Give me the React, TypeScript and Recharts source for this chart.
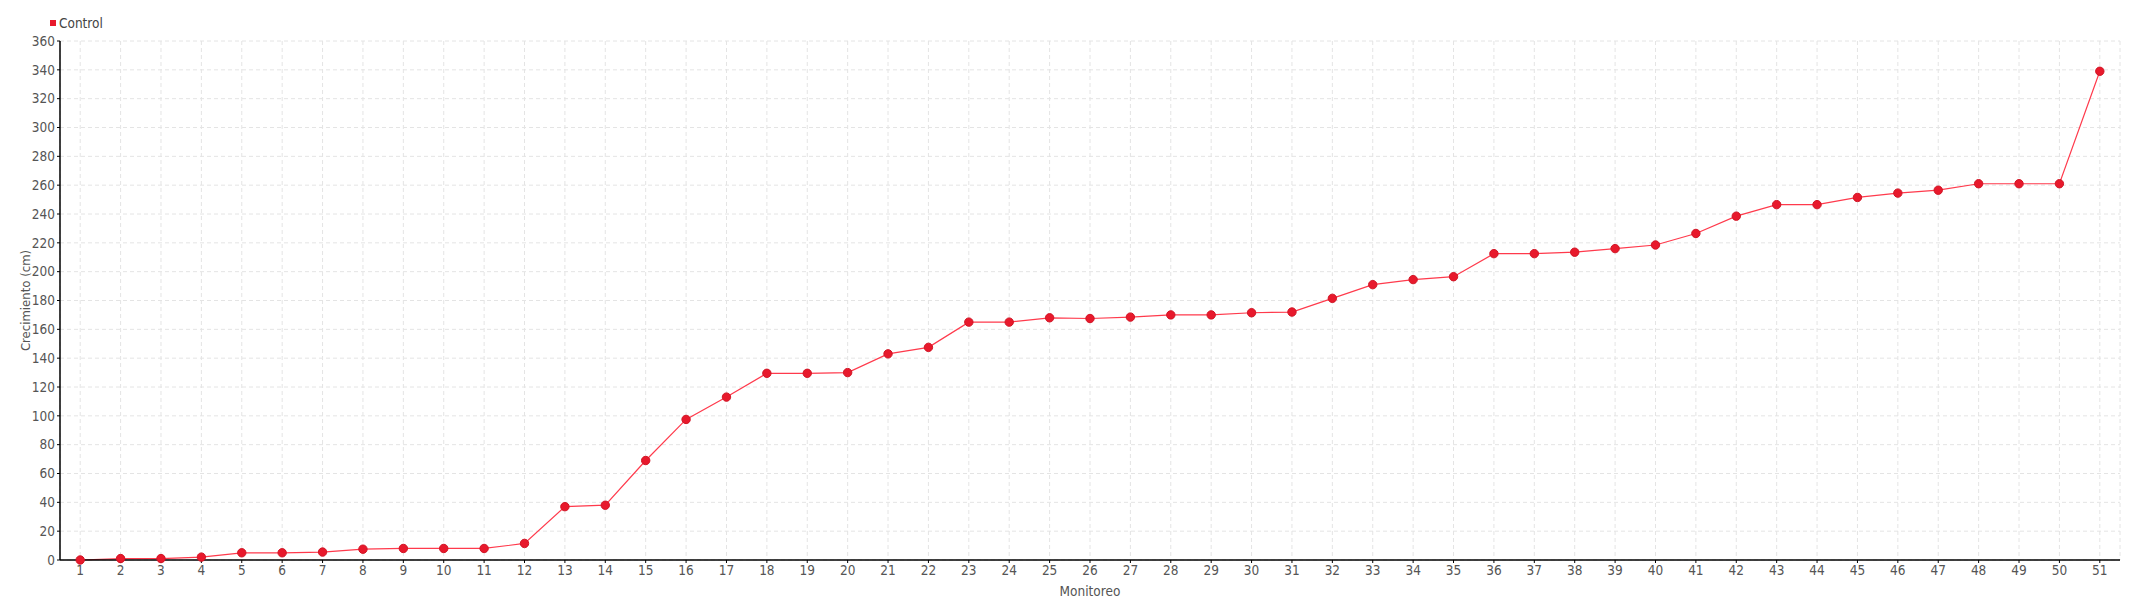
import React from "react";
import { LineChart, Line, XAxis, YAxis, CartesianGrid } from "recharts";

const monitoreos: string[] = [
  "1","2","3","4","5","6","7","8","9","10","11","12","13","14","15","16","17","18","19","20",
  "21","22","23","24","25","26","27","28","29","30","31","32","33","34","35","36","37","38","39","40",
  "41","42","43","44","45","46","47","48","49","50","51",
];

const controlValues: number[] = [
  0, 1, 1, 2, 5, 5, 5.5, 7.5, 8, 8,
  8, 11.5, 37, 38, 69, 97.5, 113, 129.5, 129.5, 130,
  143, 147.5, 165, 165, 168, 167.5, 168.5, 170, 170, 171.5,
  172, 181.5, 191, 194.5, 196.5, 212.5, 212.5, 213.5, 216, 218.5,
  226.5, 238.5, 246.5, 246.5, 251.5, 254.5, 256.5, 261, 261, 261,
  339,
];

const yTicks: number[] = [0, 20, 40, 60, 80, 100, 120, 140, 160, 180, 200, 220, 240, 260, 280, 300, 320, 340, 360];

const seriesName = "Control";
const xLabel = "Monitoreo";
const yLabel = "Crecimiento (cm)";

const data = monitoreos.map((m, i) => ({ monitoreo: m, control: controlValues[i] }));

const FONT = "'DejaVu Sans Condensed', 'DejaVu Sans', sans-serif";
const TEXT = "#555555";
const RED = "#e8192c";

if (typeof document !== "undefined") {
  document.body.style.margin = "0";
}

const tickStyle = { fill: TEXT, fontSize: 13.5, fontFamily: FONT, fontStretch: "condensed" } as any;

export default function App() {
  return (
    <div style={{ position: "relative", width: 2140, height: 600, background: "#fff", fontFamily: FONT }}>
      <div
        style={{
          position: "absolute",
          left: 50,
          top: 15,
          display: "flex",
          alignItems: "center",
          fontSize: 13.5,
          fontStretch: "condensed",
          color: "#444",
          lineHeight: "16px",
        }}
      >
        <span style={{ display: "inline-block", width: 6, height: 6, background: RED, marginRight: 3 }} />
        <span>{seriesName}</span>
      </div>
      <LineChart width={2140} height={600} data={data} margin={{ top: 41, right: 20, bottom: 10, left: 0 }}>
        <CartesianGrid stroke="#e4e4e4" strokeDasharray="4 3" />
        <XAxis
          dataKey="monitoreo"
          scale="band"
          interval={0}
          height={30}
          tickSize={3}
          tickMargin={2}
          axisLine={{ stroke: "#000", strokeWidth: 1.5 }}
          tickLine={{ stroke: "#000" }}
          tick={tickStyle}
          label={{
            content: (props: any) => {
              const vb = props.viewBox || {};
              return (
                <text
                  x={vb.x + vb.width / 2}
                  y={596}
                  textAnchor="middle"
                  fill={TEXT}
                  fontSize={13.5}
                  fontFamily={FONT}
                  style={{ fontStretch: "condensed" }}
                >
                  {xLabel}
                </text>
              );
            },
          }}
        />
        <YAxis
          width={60}
          domain={[0, 360]}
          ticks={yTicks}
          interval={0}
          tickSize={3}
          tickMargin={2}
          axisLine={{ stroke: "#000", strokeWidth: 1.5 }}
          tickLine={{ stroke: "#000" }}
          tick={tickStyle}
          label={{
            content: (props: any) => {
              const vb = props.viewBox || {};
              const cy = vb.y + vb.height / 2;
              return (
                <text
                  x={30}
                  y={cy}
                  textAnchor="middle"
                  transform={`rotate(-90, 30, ${cy})`}
                  fill={TEXT}
                  fontSize={13}
                  fontFamily={FONT}
                  style={{ fontStretch: "condensed" }}
                >
                  {yLabel}
                </text>
              );
            },
          }}
        />
        <Line
          type="linear"
          dataKey="control"
          name={seriesName}
          stroke="#ff3a4c"
          strokeWidth={1.2}
          dot={{ r: 4.2, fill: RED, stroke: "#d11525", strokeWidth: 1 }}
          activeDot={false}
          isAnimationActive={false}
        />
      </LineChart>
    </div>
  );
}
